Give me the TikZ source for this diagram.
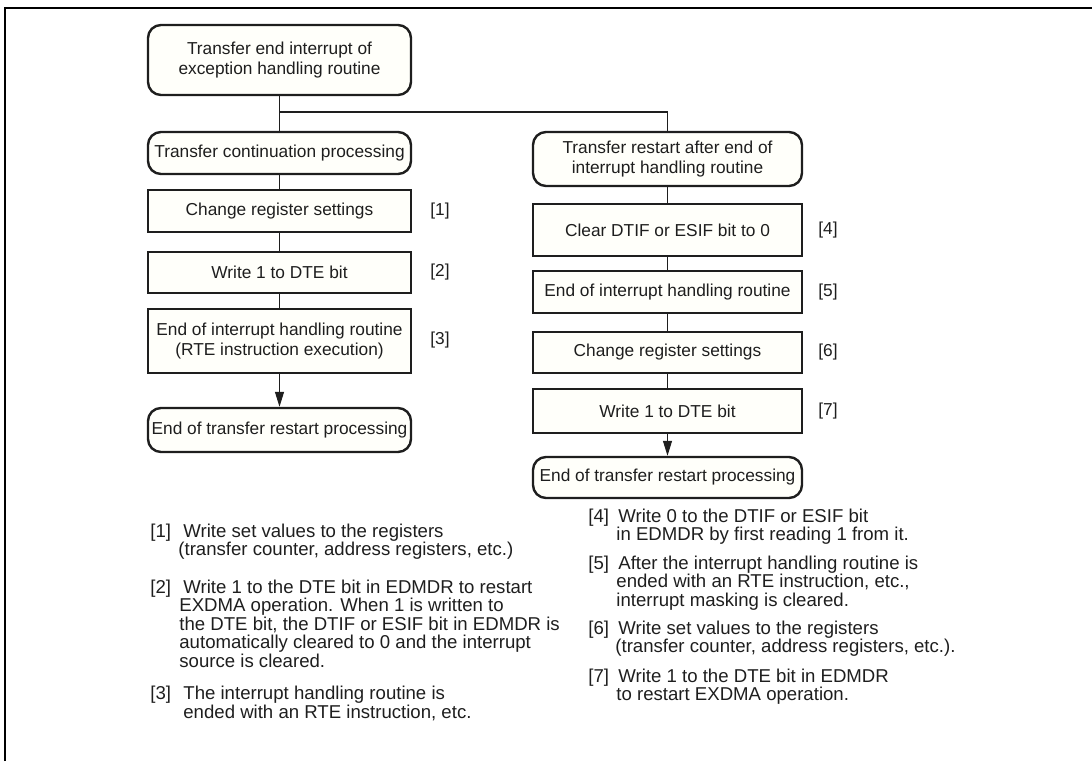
\documentclass[tikz,border=0pt]{standalone}
\usepackage{fontspec}
\setmainfont{Liberation Sans}
\usetikzlibrary{arrows.meta}
\definecolor{boxfill}{RGB}{255,255,250}
\definecolor{txt}{RGB}{30,30,30}
\begin{document}
\begin{tikzpicture}[x=0.5pt,y=-0.5pt,
  box/.style={draw=txt, line width=1.2pt, fill=boxfill, inner sep=0pt, align=center, font=\fontsize{8.65}{10}\selectfont, text=txt},
  lbox/.style={box, minimum width=131.5pt},
  rbox/.style={box, minimum width=134.5pt},
  rounded/.style={rounded corners=6.5pt},
  lbl/.style={inner sep=0pt, font=\fontsize{8.65}{10}\selectfont, text=txt},
  note/.style={anchor=base west, inner sep=0pt, align=left, font=\fontsize{9.3}{9.2}\selectfont, text=txt},
  conn/.style={line width=0.55pt, draw=txt},
  arr/.style={conn, -{Triangle[length=7.5pt,width=4.5pt]}, fill=txt},
  frame/.style={line width=1.2pt, draw=black}
]
\useasboundingbox (0,0) rectangle (1092,761);
\draw[frame] (5,761) -- (5,7.8) -- (1092,7.8);

% left column
\node[lbox, rounded, minimum height=35pt] (top) at (279.5,60) {Transfer end interrupt of\\exception handling routine};
\node[lbox, rounded, minimum height=21pt] (tcp) at (279.5,153) {Transfer continuation processing};
\node[lbox, minimum height=21pt] (b1) at (279.5,211) {Change register settings};
\node[lbox, minimum height=20.5pt] (b2) at (279.5,272.5) {Write 1 to DTE bit};
\node[lbox, minimum height=32pt] (b3) at (279.5,341) {End of interrupt handling routine\\(RTE instruction execution)};
\node[lbox, rounded, minimum height=22pt] (endL) at (279.5,430) {End of transfer restart processing};

% right column
\node[rbox, rounded, minimum height=27pt] (tr) at (667.5,159) {Transfer restart after end of\\interrupt handling routine};
\node[rbox, minimum height=26pt] (b4) at (667.5,230) {Clear DTIF or ESIF bit to 0};
\node[rbox, minimum height=21pt] (b5) at (667.5,292) {End of interrupt handling routine};
\node[rbox, minimum height=20.5pt] (b6) at (667.5,352.5) {Change register settings};
\node[rbox, minimum height=22pt] (b7) at (667.5,411) {Write 1 to DTE bit};
\node[rbox, rounded, minimum height=20.5pt] (endR) at (667.5,477.5) {End of transfer restart processing};

% step labels
\node[lbl] (l1) at (440,211) {[1]};
\node[lbl] (l2) at (440,272) {[2]};
\node[lbl] (l3) at (440,340) {[3]};
\node[lbl] (l4) at (828,230) {[4]};
\node[lbl] (l5) at (828,292) {[5]};
\node[lbl] (l6) at (828,352) {[6]};
\node[lbl] (l7) at (828,411) {[7]};

% connectors
\coordinate (split) at (279.5,112);
\draw[conn] (top.south) -- (tcp.north);
\draw[conn] (split) -| (tr.north);
\draw[conn] (tcp.south) -- (b1.north);
\draw[conn] (b1.south) -- (b2.north);
\draw[conn] (b2.south) -- (b3.north);
\draw[arr] (b3.south) -- (endL.north);
\draw[conn] (tr.south) -- (b4.north);
\draw[conn] (b4.south) -- (b5.north);
\draw[conn] (b5.south) -- (b6.north);
\draw[conn] (b6.south) -- (b7.north);
\draw[arr] (b7.south) -- (endR.north);

% notes (anchored at the baseline of their last line)
\node[note] (n1) at (150,555.5) {\makebox[16.5pt][l]{[1]}Write set values to the registers\\\hspace*{14pt}(transfer counter, address registers, etc.)};
\node[note] (n2) at (150,667) {\makebox[16.5pt][l]{[2]}Write 1 to the DTE bit in EDMDR to restart\\\hspace*{14.5pt}EXDMA operation. When 1 is written to\\\hspace*{14.5pt}the DTE bit, the DTIF or ESIF bit in EDMDR is\\\hspace*{14.5pt}automatically cleared to 0 and the interrupt\\\hspace*{14.5pt}source is cleared.};
\node[note] (n3) at (150,718) {\makebox[16.5pt][l]{[3]}The interrupt handling routine is\\\hspace*{16.5pt}ended with an RTE instruction, etc.};
\node[note] (n4) at (588,540.5) {\makebox[15pt][l]{[4]}Write 0 to the DTIF or ESIF bit\\\hspace*{14pt}in EDMDR by first reading 1 from it.};
\node[note] (n5) at (588,606.3) {\makebox[15pt][l]{[5]}After the interrupt handling routine is\\\hspace*{14pt}ended with an RTE instruction, etc.,\\\hspace*{14pt}interrupt masking is cleared.};
\node[note] (n6) at (588,652.9) {\makebox[15pt][l]{[6]}Write set values to the registers\\\hspace*{13.5pt}(transfer counter, address registers, etc.).};
\node[note] (n7) at (588,700.5) {\makebox[15pt][l]{[7]}Write 1 to the DTE bit in EDMDR\\\hspace*{14pt}to restart EXDMA operation.};
\end{tikzpicture}
\end{document}
